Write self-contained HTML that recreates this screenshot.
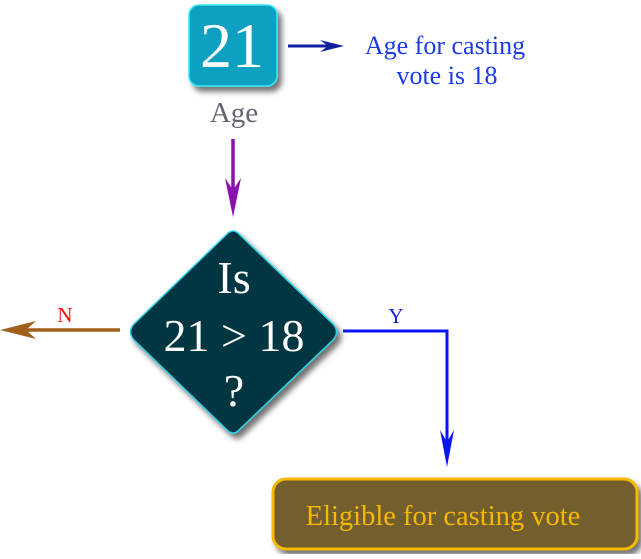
<!DOCTYPE html>
<html><head><style>
body{margin:0;width:641px;height:554px;background:#fff;overflow:hidden}
text{font-family:"Liberation Serif","DejaVu Serif",serif}
</style></head><body>
<svg width="641" height="554" viewBox="0 0 641 554">
<defs>
<filter id="sh" x="-20%" y="-20%" width="150%" height="150%"><feDropShadow dx="4" dy="5" stdDeviation="3" flood-color="#000" flood-opacity="0.55"/></filter>
</defs>
<rect x="189" y="5" width="88" height="81" rx="10" fill="#11a0c0" stroke="#30e8f0" stroke-width="1.5" filter="url(#sh)"/>
<text x="232" y="67" font-size="64" fill="#fff" text-anchor="middle">21</text>
<text x="234" y="122" font-size="29" fill="#6a6470" text-anchor="middle">Age</text>
<line x1="288" y1="46" x2="330" y2="46" stroke="#1020a0" stroke-width="3"/>
<polygon points="344,46 320,40 328,46 320,52" fill="#1020a0"/>
<text x="445" y="54" font-size="26" fill="#1a3ce8" text-anchor="middle">Age for casting</text>
<text x="447" y="84" font-size="26" fill="#1a3ce8" text-anchor="middle">vote is 18</text>
<line x1="233" y1="139" x2="233" y2="200" stroke="#8a10b0" stroke-width="3.5"/>
<polygon points="233,217 225,178 233,190 241,178" fill="#8a10b0"/>
<path d="M226,235 Q233,227 240,235 L333,324 Q340,332 333,340 L240,429 Q233,437 226,429 L134,340 Q127,332 134,324 Z" fill="#033642" stroke="#2ad0e8" stroke-width="1.5" filter="url(#sh)"/>
<text x="234" y="293" font-size="46" fill="#fff" text-anchor="middle">Is</text>
<text x="234" y="351" font-size="46" fill="#fff" text-anchor="middle">21 &gt; 18</text>
<text x="234" y="406" font-size="46" fill="#fff" text-anchor="middle">?</text>
<line x1="120" y1="330" x2="20" y2="330" stroke="#a0601a" stroke-width="3.5"/>
<polygon points="0,330 36,321 26,330 36,339" fill="#a0601a"/>
<text x="65" y="322" font-size="21" fill="#f01010" text-anchor="middle">N</text>
<polyline points="343,331 447,331 447,450" fill="none" stroke="#0a14f0" stroke-width="3"/>
<polygon points="447,467 440,430 447,442 454,430" fill="#0a14f0"/>
<text x="396" y="323" font-size="21" fill="#1a20d0" text-anchor="middle">Y</text>
<rect x="273" y="479" width="364" height="70" rx="13" fill="#735e2e" stroke="#f8b800" stroke-width="3" filter="url(#sh)"/>
<text x="443" y="525" font-size="28.5" fill="#f8b800" text-anchor="middle">Eligible for casting vote</text>
</svg>
</body></html>
